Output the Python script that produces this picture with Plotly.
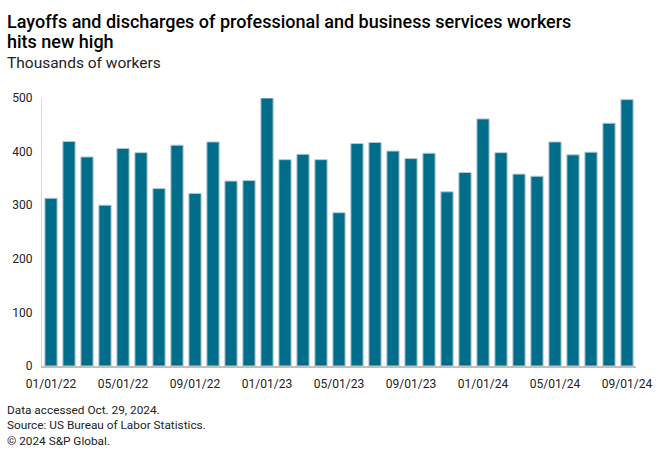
import plotly.graph_objects as go
import pandas as pd

months = pd.date_range("2022-01-01", "2024-09-01", freq="MS").strftime("%m/%d/%y").tolist()
layoffs = [313, 419, 390, 300, 406, 398, 331, 412, 322, 418, 345, 346,
           500, 385, 395, 385, 286, 415, 417, 401, 387, 397, 325, 361,
           461, 398, 358, 354, 418, 394, 399, 453, 497]
tick_labels = months[::4]

title_lines = ["Layoffs and discharges of professional and business services workers", "hits new high"]
subtitle_text = "Thousands of workers"
footer_lines = ["Data accessed Oct. 29, 2024.", "Source: US Bureau of Labor Statistics.", "© 2024 S&P Global."]

font_family = "Roboto, Arial, sans-serif"
PW, PH = 594, 268  # plot area size in px

fig = go.Figure(go.Bar(
    x=months, y=layoffs,
    marker=dict(color="#006e8a", line=dict(color="#b9c9d2", width=1)),
))

fig.update_layout(
    width=660, height=459,
    margin=dict(l=42, r=24, t=98, b=93, autoexpand=False),
    paper_bgcolor="white", plot_bgcolor="white",
    bargap=0.32,
    showlegend=False,
    font=dict(family=font_family, size=12, color="#222222"),
    xaxis=dict(
        type="category",
        tickmode="array", tickvals=tick_labels, ticktext=tick_labels,
        showline=True, linecolor="#bfbfbf", linewidth=2,
        ticks="outside", ticklen=6, tickcolor="rgba(0,0,0,0)",
        showgrid=False, automargin=False,
        tickfont=dict(size=12, color="#222222"),
    ),
    yaxis=dict(
        range=[0, 500], tickvals=[0, 100, 200, 300, 400, 500],
        showline=True, linecolor="#d9d9d9", linewidth=1,
        showgrid=False, zeroline=False,
        ticks="outside", ticklen=6, tickcolor="rgba(0,0,0,0)",
        automargin=False,
        tickfont=dict(size=12, color="#222222"),
    ),
)

for i, line in enumerate(title_lines):
    fig.add_annotation(text=line,
                       xref="paper", yref="paper", x=-37/PW, y=1 + (98 - 9 - 20*i)/PH,
                       xanchor="left", yanchor="top", align="left", showarrow=False,
                       font=dict(size=18, color="#000000", family=font_family, weight=500))
fig.add_annotation(text=subtitle_text,
                   xref="paper", yref="paper", x=-37/PW, y=1 + (98-52)/PH,
                   xanchor="left", yanchor="top", align="left", showarrow=False,
                   font=dict(size=15.5, color="#222222", family=font_family))
fig.add_annotation(text="<br>".join(footer_lines),
                   xref="paper", yref="paper", x=-37/PW, y=-(401-366)/PH,
                   xanchor="left", yanchor="top", align="left", showarrow=False,
                   font=dict(size=11.8, color="#222222", family=font_family))

fig.write_html("out.html", config={"displayModeBar": False},
               post_script="document.body.style.margin='0';")
